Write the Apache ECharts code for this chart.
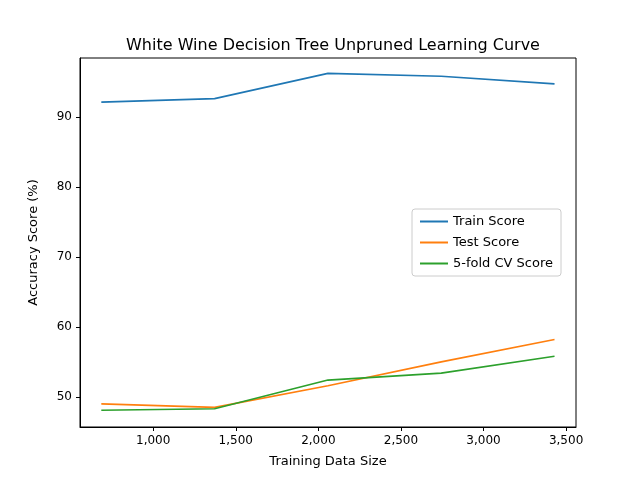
<!DOCTYPE html>
<html>
<head>
<meta charset="utf-8">
<script src="https://cdn.jsdelivr.net/npm/echarts@6/dist/echarts.min.js"></script>
<style>html,body{margin:0;background:#fff}#chart{width:640px;height:480px}</style>
</head>
<body>
<div id="chart"></div>
<script>
const sizes = [686, 1372, 2058, 2744, 3430];
const trainScore = [92.1, 92.6, 96.2, 95.8, 94.7];
const testScore = [49.0, 48.5, 51.6, 55.0, 58.2];
const cvScore = [48.1, 48.3, 52.4, 53.4, 55.8];
const xTicks = [1000, 1500, 2000, 2500, 3000, 3500];
const yTicks = [50, 60, 70, 80, 90];

const font = 'DejaVu Sans';
const pair = arr => sizes.map((s, i) => [s, arr[i]]);
const line = (name, data, color) => ({
  name, type: 'line', data: pair(data), showSymbol: false,
  lineStyle: { color, width: 1.6 }, itemStyle: { color }
});

const axisBase = {
  axisLine: { onZero: false, lineStyle: { color: '#000' } },
  axisTick: { inside: false, length: 4, lineStyle: { color: '#000' } },
  axisLabel: { color: '#000', fontFamily: font, fontSize: 12 },
  splitLine: { show: false },
  nameLocation: 'middle',
  nameTextStyle: { color: '#000', fontFamily: font, fontSize: 13 }
};

const chart = echarts.init(document.getElementById('chart'));
chart.setOption({
  animation: false,
  title: {
    text: 'White Wine Decision Tree Unpruned Learning Curve',
    left: 328, top: 33, textAlign: 'center',
    textStyle: { fontFamily: font, fontSize: 16, fontWeight: 'normal', color: '#000' }
  },
  grid: { left: 80, right: 64, top: 58, bottom: 53, show: true, borderColor: '#000', borderWidth: 1 },
  legend: {
    orient: 'vertical', left: 412, top: 209, padding: [6, 8, 6, 8],
    borderColor: '#ccc', borderWidth: 1, borderRadius: 3, backgroundColor: '#fff',
    itemWidth: 28, itemHeight: 2, itemGap: 8,
    icon: 'rect',
    textStyle: { fontFamily: font, fontSize: 13, color: '#000' }
  },
  xAxis: Object.assign({}, axisBase, {
    type: 'value', min: 557, max: 3560, name: 'Training Data Size', nameGap: 28,
    axisTick: Object.assign({}, axisBase.axisTick, { customValues: xTicks }),
    axisLabel: Object.assign({}, axisBase.axisLabel, { customValues: xTicks })
  }),
  yAxis: Object.assign({}, axisBase, {
    type: 'value', min: 45.7, max: 98.4, name: 'Accuracy Score (%)', nameGap: 40,
    axisTick: Object.assign({}, axisBase.axisTick, { customValues: yTicks }),
    axisLabel: Object.assign({}, axisBase.axisLabel, { customValues: yTicks })
  }),
  series: [
    line('Train Score', trainScore, '#1f77b4'),
    line('Test Score', testScore, '#ff7f0e'),
    line('5-fold CV Score', cvScore, '#2ca02c')
  ]
});
</script>
</body>
</html>
